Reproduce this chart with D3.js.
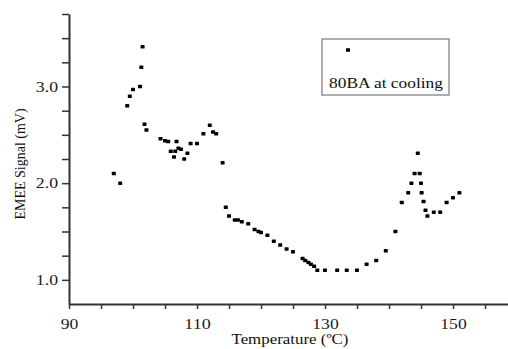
<!DOCTYPE html>
<html>
<head>
<meta charset="utf-8">
<script src="https://cdn.jsdelivr.net/npm/d3@7"></script>
<style>
  body { margin: 0; background: #fff; }
  svg { display: block; font-family: "Liberation Serif", "Times New Roman", serif; }
</style>
</head>
<body>
<div id="chart"></div>
<script>
// temperatur (°C) och signal (mV)
var temperature = [97.0, 98.0, 99.1, 99.5, 100.0, 101.1, 101.3, 101.5, 101.8, 102.1,
  104.3, 105.0, 105.5, 105.9, 106.4, 106.6, 106.8, 107.1, 107.5, 108.0,
  108.5, 109.0, 110.0, 111.0, 112.0, 112.5, 113.0, 114.0, 114.5, 115.0,
  115.9, 116.4, 117.0, 118.0, 119.0, 119.6, 120.0, 121.0, 122.0, 123.0,
  124.0, 125.0, 126.5, 126.9, 127.4, 127.8, 128.3, 128.8, 130.0, 131.9,
  133.4, 135.0, 136.5, 138.0, 139.5, 141.0, 142.0, 143.0, 143.5, 144.0,
  144.5, 144.8, 145.0, 145.1, 145.4, 145.7, 146.0, 147.0, 148.0, 149.0,
  150.0, 151.0];
var signal = [2.10, 2.00, 2.80, 2.90, 2.97, 3.00, 3.20, 3.41, 2.61, 2.55,
  2.46, 2.44, 2.43, 2.33, 2.27, 2.33, 2.43, 2.36, 2.35, 2.25,
  2.31, 2.41, 2.41, 2.51, 2.60, 2.53, 2.51, 2.21, 1.75, 1.66,
  1.62, 1.62, 1.60, 1.58, 1.52, 1.50, 1.49, 1.46, 1.40, 1.36,
  1.32, 1.29, 1.22, 1.20, 1.18, 1.16, 1.14, 1.10, 1.10, 1.10,
  1.10, 1.10, 1.16, 1.20, 1.30, 1.50, 1.80, 1.90, 2.00, 2.10,
  2.31, 2.10, 2.00, 1.90, 1.81, 1.72, 1.66, 1.70, 1.70, 1.80,
  1.85, 1.90];
var xTicks = [90, 95, 100, 105, 110, 115, 120, 125, 130, 135, 140, 145, 150, 155];
var xLabels = [90, 110, 130, 150];
var yTicks = [1.0, 1.25, 1.5, 1.75, 2.0, 2.25, 2.5, 2.75, 3.0, 3.25, 3.5, 3.75];
var yLabels = [1.0, 2.0, 3.0];
var legendLabel = "80BA at cooling";

var width = 508, height = 349;
var axisColor = '#333';

// bilden är lite utdragen på bredden, så texten sträcks med textLength
function stretch(str) {
  var w = 0;
  String(str).split('').forEach(function (c) { w += (c === '.') ? 4.6 : 8.8; });
  return w;
}

var svg = d3.select('#chart').append('svg')
  .attr('width', width)
  .attr('height', height);

// skalor
var x = d3.scaleLinear().domain([90, 160]).range([69, 517]);
var y = d3.scaleLinear().domain([0.75, 3.75]).range([304, 14]);

// x-axel
var xAxis = svg.append('g')
  .attr('transform', 'translate(0,304)')
  .call(d3.axisBottom(x)
    .tickValues(xTicks)
    .tickSize(5)
    .tickSizeOuter(0)
    .tickPadding(9)
    .tickFormat(function (d) { return xLabels.indexOf(d) >= 0 ? d : ''; }));

// y-axel
var yAxis = svg.append('g')
  .attr('transform', 'translate(69,0)')
  .call(d3.axisLeft(y)
    .tickValues(yTicks)
    .tickSize(7)
    .tickSizeOuter(0)
    .tickPadding(4)
    .tickFormat(function (d) { return yLabels.indexOf(d) >= 0 ? d3.format('.1f')(d) : ''; }));

[xAxis, yAxis].forEach(function (g) {
  g.select('.domain').attr('stroke', axisColor).attr('stroke-width', 2);
  g.selectAll('.tick line').attr('stroke', axisColor).attr('stroke-width', 1.5);
  g.selectAll('.tick text')
    .attr('fill', '#1a1a1a')
    .style('font-family', '"Liberation Serif", serif')
    .style('font-size', '15px')
    .each(function () {
      var t = d3.select(this).text();
      if (t) d3.select(this).attr('textLength', stretch(t)).attr('lengthAdjust', 'spacingAndGlyphs');
    });
});

// axeltitlar
svg.append('text')
  .attr('x', 290)
  .attr('y', 344)
  .attr('text-anchor', 'middle')
  .attr('fill', '#111')
  .attr('textLength', 117)
  .attr('lengthAdjust', 'spacingAndGlyphs')
  .style('font-size', '14px')
  .text('Temperature (ºC)');

svg.append('text')
  .attr('transform', 'translate(25,164) rotate(-90)')
  .attr('text-anchor', 'middle')
  .attr('fill', '#111')
  .style('font-size', '14px')
  .text('EMEE Signal (mV)');

// punkterna
var points = temperature.map(function (t, i) { return { t: t, s: signal[i] }; });
svg.selectAll('rect.pt')
  .data(points).enter()
  .append('rect')
  .attr('class', 'pt')
  .attr('x', function (d) { return x(d.t) - 2; })
  .attr('y', function (d) { return y(d.s) - 1.75; })
  .attr('width', 4)
  .attr('height', 3.5)
  .attr('rx', 0.6)
  .attr('fill', '#000');

// legend
var legend = svg.append('g').attr('transform', 'translate(322,39)');
legend.append('rect')
  .attr('width', 127)
  .attr('height', 56)
  .attr('fill', '#fff')
  .attr('stroke', '#777')
  .attr('stroke-width', 1.2);
legend.append('rect')
  .attr('x', 24)
  .attr('y', 9.25)
  .attr('width', 4)
  .attr('height', 3.5)
  .attr('fill', '#000');
legend.append('text')
  .attr('x', 7)
  .attr('y', 49)
  .attr('fill', '#111')
  .attr('textLength', 114)
  .attr('lengthAdjust', 'spacingAndGlyphs')
  .style('font-size', '15px')
  .text(legendLabel);
</script>
</body>
</html>
